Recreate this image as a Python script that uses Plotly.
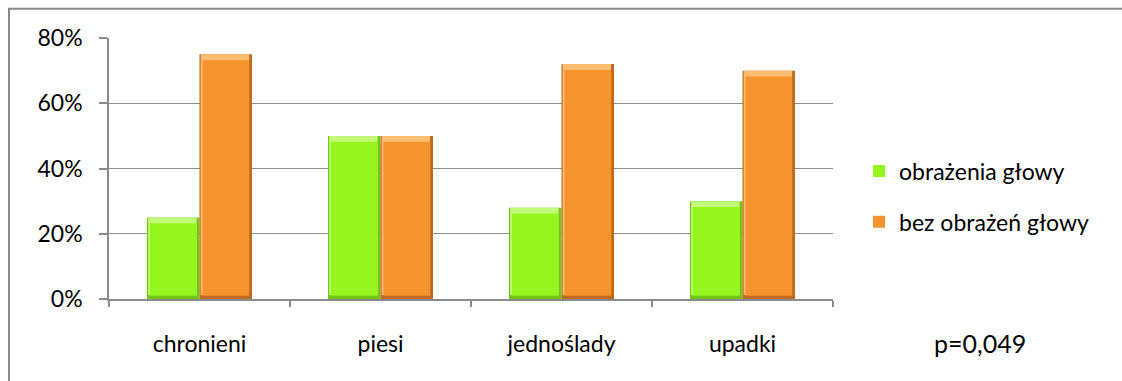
import plotly.graph_objects as go

# Share of cases with / without head injuries per group
categories = ["chronieni", "piesi", "jednoślady", "upadki"]
head_injury = [0.25, 0.50, 0.28, 0.30]
no_head_injury = [0.75, 0.50, 0.72, 0.70]
series_names = ["obrażenia głowy", "bez obrażeń głowy"]
y_ticks = [0, 0.2, 0.4, 0.6, 0.8]
y_tick_text = ["0%", "20%", "40%", "60%", "80%"]
p_value_text = "p=0,049"

FONT = "Lato"
TEXT_COLOR = "#000000"
BAR_W = 0.29          # bar width in category units
EDGE_X = 0.016        # side bevel width (category units)
EDGE_Y = 0.012        # top/bottom bevel height (fraction units)

styles = [
    dict(face="#96f41f", edge="#72c417", top="#c2fb78", offset=-BAR_W),
    dict(face="#f5932f", edge="#bf6a1d", top="#fbbd70", offset=0.0),
]

fig = go.Figure()

for name, values, st in zip(series_names, [head_injury, no_head_injury], styles):
    # darker bevel body
    fig.add_trace(go.Bar(
        x=categories, y=values, offset=st["offset"], width=BAR_W,
        marker=dict(color=st["edge"], line=dict(width=0)),
        showlegend=False, hoverinfo="skip",
    ))
    # light top bevel
    fig.add_trace(go.Bar(
        x=categories, y=[v - EDGE_Y for v in values],
        base=[EDGE_Y] * len(values),
        offset=st["offset"] + EDGE_X * 0.4, width=BAR_W - EDGE_X * 1.4,
        marker=dict(color=st["top"], line=dict(width=0)),
        showlegend=False, hoverinfo="skip",
    ))
    # main face
    fig.add_trace(go.Bar(
        x=categories, y=[v - 2.3 * EDGE_Y for v in values],
        base=[0.8 * EDGE_Y] * len(values),
        offset=st["offset"] + EDGE_X, width=BAR_W - 2 * EDGE_X,
        marker=dict(color=st["face"], line=dict(width=0)),
        name=name, legendgroup=name,
        hovertemplate="%{x}: %{customdata:.0%}<extra></extra>",
        customdata=values,
    ))

fig.update_layout(
    width=1122, height=381,
    margin=dict(l=109, r=289, t=38, b=82),
    paper_bgcolor="white", plot_bgcolor="white",
    barmode="overlay",
    font=dict(family=FONT, size=23, color=TEXT_COLOR),
    showlegend=True,
    legend=dict(
        x=1.036, y=0.573, xanchor="left", yanchor="top",
        font=dict(family=FONT, size=23, color=TEXT_COLOR),
        tracegroupgap=18, itemwidth=30,
        bgcolor="rgba(0,0,0,0)",
    ),
    xaxis=dict(
        type="category", tickson="boundaries",
        showline=True, linecolor="#8c8c8c", linewidth=1.5,
        ticks="outside", ticklen=6, tickcolor="#8c8c8c", tickwidth=1.5,
        showgrid=False, ticklabelstandoff=24,
        tickfont=dict(family=FONT, size=23, color=TEXT_COLOR),
        range=[-0.5, 3.5],
    ),
    yaxis=dict(
        range=[0, 0.8], tickvals=y_ticks, ticktext=y_tick_text,
        showline=True, linecolor="#8c8c8c", linewidth=1.5,
        ticks="outside", ticklen=8, tickcolor="#8c8c8c", tickwidth=1.5,
        showgrid=True, gridcolor="#8c8c8c", gridwidth=1.2,
        zeroline=False, ticklabelstandoff=12,
        tickfont=dict(family=FONT, size=23, color=TEXT_COLOR),
    ),
    shapes=[dict(
        type="rect", xref="paper", yref="paper",
        x0=-0.1381, x1=2.0, y0=-1.0, y1=1.1124,
        line=dict(color="#8a8a8a", width=2), layer="below",
    )],
    annotations=[dict(
        text=p_value_text, xref="paper", yref="paper",
        x=1.203, y=-0.169, xanchor="center", yanchor="middle",
        showarrow=False, font=dict(family=FONT, size=25, color=TEXT_COLOR),
    )],
)

fig.write_html("out.html")
